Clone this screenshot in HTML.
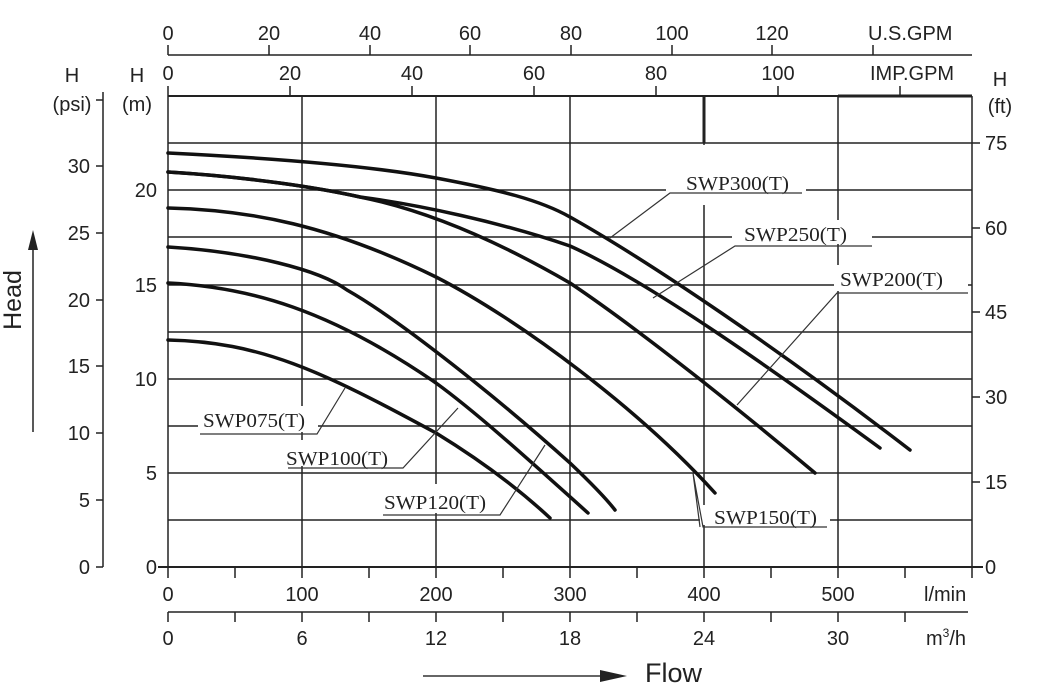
<!DOCTYPE html>
<html><head><style>
html,body{margin:0;padding:0;background:#fff;}
svg{display:block;}
.ax{font-family:"Liberation Sans",sans-serif;font-size:20px;fill:#222;}
.lb{font-family:"Liberation Serif",serif;font-size:20px;fill:#222;}
</style></head><body>
<svg width="1042" height="690" viewBox="0 0 1042 690" xmlns="http://www.w3.org/2000/svg">
<g stroke="#222" stroke-width="1.5" fill="none">
<line x1="168" y1="96" x2="972" y2="96" stroke-width="2"/>
<line x1="168" y1="143" x2="972" y2="143"/>
<line x1="168" y1="190" x2="972" y2="190"/>
<line x1="168" y1="237" x2="972" y2="237"/>
<line x1="168" y1="285" x2="972" y2="285"/>
<line x1="168" y1="332" x2="972" y2="332"/>
<line x1="168" y1="379" x2="972" y2="379"/>
<line x1="168" y1="426" x2="972" y2="426"/>
<line x1="168" y1="473" x2="972" y2="473"/>
<line x1="168" y1="520" x2="972" y2="520"/>
<line x1="158" y1="567" x2="983" y2="567" stroke-width="2"/>
<line x1="168" y1="96" x2="168" y2="578"/>
<line x1="302" y1="96" x2="302" y2="578"/>
<line x1="436" y1="96" x2="436" y2="578"/>
<line x1="570" y1="96" x2="570" y2="578"/>
<line x1="704" y1="96" x2="704" y2="578"/>
<line x1="704" y1="96" x2="704" y2="143" stroke-width="3"/>
<line x1="838" y1="96" x2="838" y2="578"/>
<line x1="972" y1="96" x2="972" y2="578"/>
<line x1="838" y1="96" x2="972" y2="96" stroke-width="3"/>
<path d="M235 567v11M369 567v11M503 567v11M637 567v11M771 567v11M905 567v11"/>
<line x1="168" y1="612" x2="968" y2="612"/>
<path d="M168 612v10M235 612v10M302 612v10M369 612v10M436 612v10M503 612v10M570 612v10M637 612v10M704 612v10M771 612v10M838 612v10M905 612v10"/>
<line x1="168" y1="55" x2="972" y2="55"/>
<path d="M168 45v10M269 45v10M370 45v10M470 45v10M571 45v10M672 45v10M772 45v10M873 45v10"/>
<path d="M168 86v10M290 86v10M412 86v10M534 86v10M656 86v10M778 86v10M900 86v10"/>
<line x1="103" y1="92" x2="103" y2="567"/>
<path d="M96 100h7M96 166h7M96 233h7M96 300h7M96 366h7M96 433h7M96 500h7M96 567h7"/>
<path d="M972 143h8M972 228h8M972 312h8M972 397h8M972 482h8M972 567h8"/>
<line x1="33" y1="432" x2="33" y2="245"/>
<line x1="423" y1="676" x2="605" y2="676" stroke="#666" stroke-width="2"/>
</g>
<polygon points="33,230 28,250 38,250" fill="#222"/>
<polygon points="627,676 600,670 600,682" fill="#222"/>

<g fill="#fff">
<rect x="198" y="406" width="120" height="26"/>
<rect x="284" y="440" width="122" height="26"/>
<rect x="380" y="484" width="122" height="29"/>
<rect x="666" y="168" width="140" height="24"/>
<rect x="732" y="220" width="140" height="24"/>
<rect x="834" y="265" width="134" height="26"/>
<rect x="700" y="505" width="130" height="20"/>
<rect x="700" y="145" width="8" height="60"/>
</g>

<g stroke="#111" stroke-width="3.5" fill="none" stroke-linecap="round">
<path d="M168,153 C250,157 360,164 436,178 C500,190 540,200 570,217 C650,262 780,350 910,450"/>
<path d="M168,172 C250,177 320,188 360,197 C420,205 500,222 570,246 C650,282 780,375 880,448"/>
<path d="M168,172 C250,177 320,188 360,197 C400,205 470,225 570,283 C640,330 740,410 815,473"/>
<path d="M168,208 C250,210 330,225 436,277 C520,320 640,410 715,493"/>
<path d="M168,247 C250,252 320,270 347,290 C400,320 500,400 570,463 C590,482 605,497 615,510"/>
<path d="M168,283 C250,287 330,310 436,383 C480,415 540,470 588,513"/>
<path d="M168,340 C260,342 320,370 436,433 C480,460 520,490 550,518"/>
</g>

<g stroke="#333" stroke-width="1.2" fill="none">
<path d="M200,434 H317 L345,388"/>
<path d="M288,468 H403 L458,408"/>
<path d="M383,515 H500 L545,445"/>
<path d="M802,193 H670 L610,238"/>
<path d="M872,246 H735 L653,298"/>
<path d="M968,293 H837 L737,405"/>
<path d="M827,527 H703 L693,473 L700,527"/>
</g>

<g class="lb">
<text x="203" y="427" textLength="102" lengthAdjust="spacingAndGlyphs">SWP075(T)</text>
<text x="286" y="465" textLength="102" lengthAdjust="spacingAndGlyphs">SWP100(T)</text>
<text x="384" y="509" textLength="102" lengthAdjust="spacingAndGlyphs">SWP120(T)</text>
<text x="686" y="190" textLength="103" lengthAdjust="spacingAndGlyphs">SWP300(T)</text>
<text x="744" y="241" textLength="103" lengthAdjust="spacingAndGlyphs">SWP250(T)</text>
<text x="840" y="286" textLength="103" lengthAdjust="spacingAndGlyphs">SWP200(T)</text>
<text x="714" y="524" textLength="103" lengthAdjust="spacingAndGlyphs">SWP150(T)</text>
</g>

<g class="ax">
<g text-anchor="middle">
<text x="168" y="40">0</text><text x="269" y="40">20</text><text x="370" y="40">40</text><text x="470" y="40">60</text><text x="571" y="40">80</text><text x="672" y="40">100</text><text x="772" y="40">120</text>
<text x="168" y="80">0</text><text x="290" y="80">20</text><text x="412" y="80">40</text><text x="534" y="80">60</text><text x="656" y="80">80</text><text x="778" y="80">100</text>
<text x="168" y="601">0</text><text x="302" y="601">100</text><text x="436" y="601">200</text><text x="570" y="601">300</text><text x="704" y="601">400</text><text x="838" y="601">500</text>
<text x="168" y="645">0</text><text x="302" y="645">6</text><text x="436" y="645">12</text><text x="570" y="645">18</text><text x="704" y="645">24</text><text x="838" y="645">30</text>
<text x="72" y="82">H</text><text x="72" y="111">(psi)</text>
<text x="137" y="82">H</text><text x="137" y="111">(m)</text>
<text x="1000" y="86">H</text><text x="1000" y="113">(ft)</text>
</g>
<text x="868" y="40">U.S.GPM</text>
<text x="870" y="80">IMP.GPM</text>
<text x="924" y="601">l/min</text>
<text x="926" y="645">m<tspan font-size="12" dy="-8">3</tspan><tspan dy="8">/h</tspan></text>
<g text-anchor="end">
<text x="90" y="173">30</text><text x="90" y="240">25</text><text x="90" y="307">20</text><text x="90" y="373">15</text><text x="90" y="440">10</text><text x="90" y="507">5</text><text x="90" y="574">0</text>
<text x="157" y="197">20</text><text x="157" y="292">15</text><text x="157" y="386">10</text><text x="157" y="480">5</text><text x="157" y="574">0</text>
</g>
<text x="985" y="150">75</text><text x="985" y="235">60</text><text x="985" y="319">45</text><text x="985" y="404">30</text><text x="985" y="489">15</text><text x="985" y="574">0</text>
<text x="645" y="682" font-size="27">Flow</text>
<text transform="translate(21,300) rotate(-90)" text-anchor="middle" font-size="25">Head</text>
</g>
</svg>
</body></html>
